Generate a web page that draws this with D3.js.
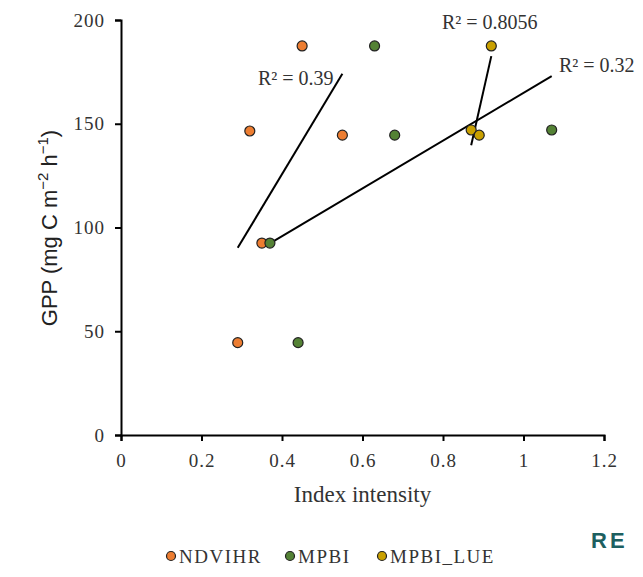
<!DOCTYPE html>
<html>
<head>
<meta charset="utf-8">
<script src="https://cdn.jsdelivr.net/npm/d3@7"></script>
<style>
  body { margin: 0; background: #fff; }
</style>
</head>
<body>
<svg id="chart" width="643" height="577"></svg>
<script>
// series values (index intensity, GPP)
const seriesNames = ["NDVIHR", "MPBI", "MPBI_LUE"];
const ndvihrX = [0.29, 0.35, 0.32, 0.45, 0.55];
const ndvihrY = [44.5, 92.5, 146.5, 187.5, 144.5];
const mpbiX = [0.44, 0.37, 0.63, 0.68, 1.07];
const mpbiY = [44.5, 92.5, 187.5, 144.5, 147];
const mpbiLueX = [0.87, 0.89, 0.92];
const mpbiLueY = [147, 144.5, 187.5];
const r2Labels = ["R² = 0.39", "R² = 0.32", "R² = 0.8056"];
const xTicks = [0, 0.2, 0.4, 0.6, 0.8, 1, 1.2];
const yTicks = [0, 50, 100, 150, 200];

const colors = ["#ED7D31", "#548235", "#C9A000"];
const serif = "'Liberation Serif', 'Times New Roman', serif";
const sans = "'Liberation Sans', Arial, sans-serif";

const svg = d3.select("#chart");
const margin = {left: 121, top: 20, right: 39, bottom: 142};
const width = 643 - margin.left - margin.right;
const height = 577 - margin.top - margin.bottom;

const x = d3.scaleLinear().domain([0, 1.2]).range([0, width]);
const y = d3.scaleLinear().domain([0, 200]).range([height, 0]);

const g = svg.append("g").attr("transform", `translate(${margin.left},${margin.top})`);

// axes
const axX = g.append("g")
    .attr("transform", `translate(0,${height})`)
    .call(d3.axisBottom(x).tickValues(xTicks).tickFormat(d => d).tickSize(6).tickPadding(13));
const axY = g.append("g")
    .call(d3.axisLeft(y).tickValues(yTicks).tickSize(6).tickPadding(10));
[axX, axY].forEach(a => {
    a.attr("font-family", serif);
    a.select(".domain").attr("stroke", "#000").attr("stroke-width", 2);
    a.selectAll(".tick line").attr("stroke", "#000").attr("stroke-width", 2);
    a.selectAll("text").attr("font-size", 19).attr("fill", "#333")
        .attr("letter-spacing", 1);
});

// data
const series = [
    {name: seriesNames[0], xs: ndvihrX, ys: ndvihrY, color: colors[0], label: r2Labels[0]},
    {name: seriesNames[1], xs: mpbiX, ys: mpbiY, color: colors[1], label: r2Labels[1]},
    {name: seriesNames[2], xs: mpbiLueX, ys: mpbiLueY, color: colors[2], label: r2Labels[2]}
];

// linear trend lines (least squares over each series)
function fit(xs, ys) {
    const mx = d3.mean(xs), my = d3.mean(ys);
    const sxy = d3.sum(xs, (v, i) => (v - mx) * (ys[i] - my));
    const sxx = d3.sum(xs, v => (v - mx) * (v - mx));
    const slope = sxy / sxx;
    return v => my + slope * (v - mx);
}

series.forEach(s => {
    const f = fit(s.xs, s.ys);
    const [x0, x1] = d3.extent(s.xs);
    g.append("line")
        .attr("x1", x(x0)).attr("y1", y(f(x0)))
        .attr("x2", x(x1)).attr("y2", y(f(x1)))
        .attr("stroke", "#000").attr("stroke-width", 2);
});

series.forEach(s => {
    g.selectAll(null)
        .data(s.xs.map((v, i) => [v, s.ys[i]]))
        .enter()
        .append("circle")
        .attr("cx", d => x(d[0]))
        .attr("cy", d => y(d[1]))
        .attr("r", 5)
        .attr("fill", s.color)
        .attr("stroke", "#222")
        .attr("stroke-width", 1.2);
});

// R² labels
const labelPos = [[258, 85], [559, 72], [442, 29]];
series.forEach((s, i) => {
    svg.append("text")
        .attr("x", labelPos[i][0]).attr("y", labelPos[i][1])
        .attr("font-size", 20).attr("fill", "#333")
        .attr("font-family", serif)
        .text(s.label);
});

// axis titles
svg.append("text")
    .attr("transform", "translate(57,228) rotate(-90)")
    .attr("text-anchor", "middle")
    .attr("font-size", 22)
    .attr("fill", "#222")
    .attr("font-family", sans)
    .html('GPP (mg C m<tspan dy="-9" font-size="15">−2</tspan><tspan dy="9"> h</tspan><tspan dy="-9" font-size="15">−1</tspan><tspan dy="9">)</tspan>');

svg.append("text")
    .attr("x", margin.left + width / 2).attr("y", 502)
    .attr("text-anchor", "middle")
    .attr("font-size", 23).attr("fill", "#333")
    .attr("font-family", serif)
    .text("Index intensity");

// legend
const legX = [171, 290, 382];
series.forEach((s, i) => {
    svg.append("circle")
        .attr("cx", legX[i]).attr("cy", 556).attr("r", 4.5)
        .attr("fill", s.color).attr("stroke", "#222").attr("stroke-width", 1.2);
    svg.append("text")
        .attr("x", legX[i] + 8).attr("y", 563)
        .attr("font-size", 19).attr("fill", "#333")
        .attr("letter-spacing", 1.5)
        .attr("font-family", serif)
        .text(s.name);
});

// watermark fragment
svg.append("text")
    .attr("x", 591).attr("y", 548)
    .attr("font-size", 22).attr("font-weight", "bold")
    .attr("letter-spacing", 3)
    .attr("fill", "#1d5f60")
    .attr("font-family", sans)
    .text("RE");
</script>
</body>
</html>
